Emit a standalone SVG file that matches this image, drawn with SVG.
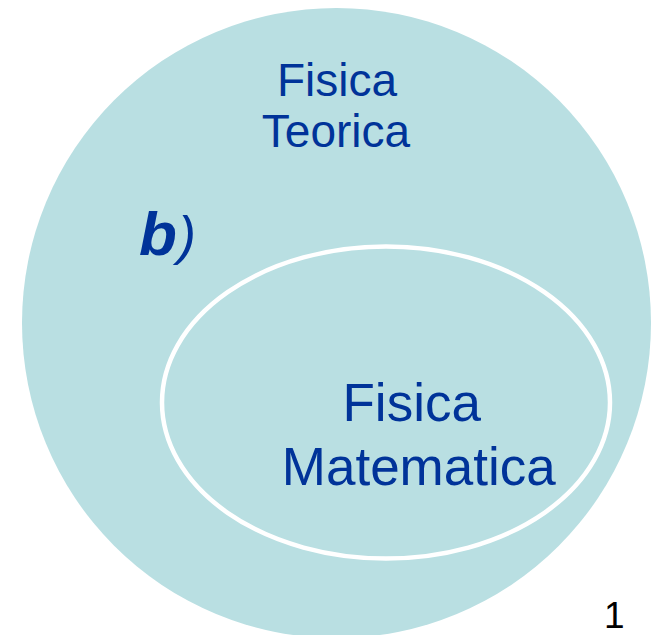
<svg xmlns="http://www.w3.org/2000/svg" width="657" height="635" viewBox="0 0 657 635">
  <style>
    .lbl { font-family: "Liberation Sans", Arial, sans-serif; fill: #003399; }
  </style>
  <rect width="657" height="635" fill="#ffffff"/>
  <g id="fisica-teorica">
    <ellipse cx="336.5" cy="323" rx="314.5" ry="315" fill="#B9DFE2"/>
    <text class="lbl" font-size="46" text-anchor="middle" x="337" y="95.7">Fisica</text>
    <text class="lbl" font-size="46" text-anchor="middle" x="336" y="146.7">Teorica</text>
    <text class="lbl" x="139" y="255"><tspan font-size="62" font-weight="bold" font-style="italic">b</tspan><tspan font-size="54" font-style="italic" x="178" y="254">)</tspan></text>
  </g>
  <g id="fisica-matematica">
    <ellipse cx="386" cy="402.5" rx="224" ry="156" fill="none" stroke="#ffffff" stroke-width="4.5"/>
    <text class="lbl" font-size="53" x="342.5" y="421">Fisica</text>
    <text class="lbl" font-size="53" x="281.8" y="485">Matematica</text>
  </g>
  <g id="connectors"/>
  <text x="604" y="628" font-family="Liberation Sans, Arial, sans-serif" font-size="37" fill="#000000">1</text>
</svg>
